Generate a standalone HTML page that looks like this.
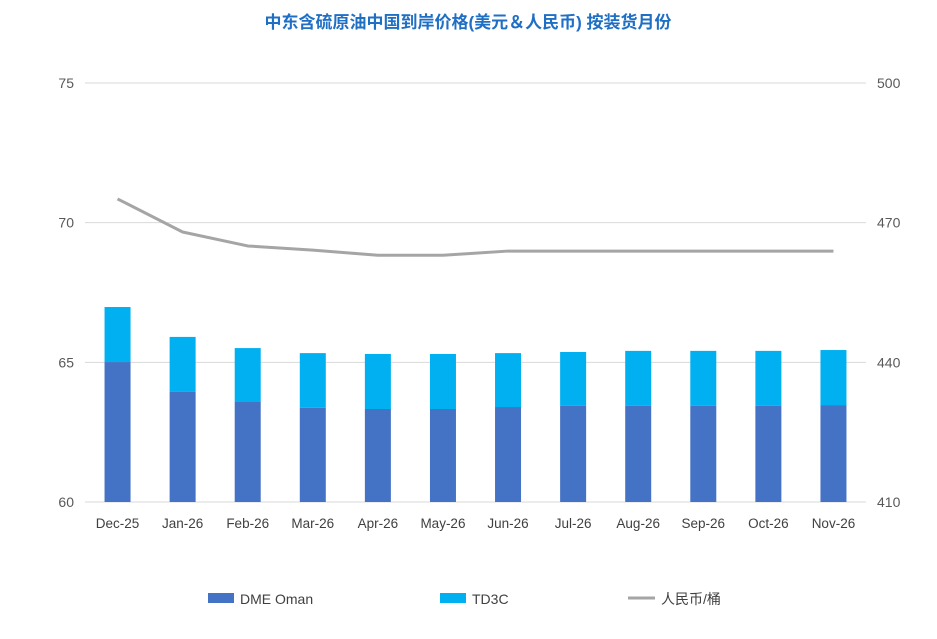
<!DOCTYPE html>
<html><head><meta charset="utf-8"><style>
body{margin:0;background:#fff;}
svg text{font-family:"Liberation Sans","Noto Sans CJK SC",sans-serif;}
</style></head><body>
<svg id="chart" width="937" height="634" xmlns="http://www.w3.org/2000/svg">
<text x="468" y="28" text-anchor="middle" font-size="17" font-weight="bold" fill="#1f6fc5">中东含硫原油中国到岸价格(美元＆人民币) 按装货月份</text>
<g id="grid"></g><g id="bars"></g><g id="line"></g><g id="axes"></g>
<g>
<rect x="208" y="593" width="26" height="10" fill="#4472c4"/>
<text x="240" y="604" font-size="14" fill="#404040">DME Oman</text>
<rect x="440" y="593" width="26" height="10" fill="#00b0f0"/>
<text x="472" y="604" font-size="14" fill="#404040">TD3C</text>
<line x1="628" y1="598" x2="655" y2="598" stroke="#a5a5a5" stroke-width="3"/>
<text x="661" y="604" font-size="14" fill="#404040">人民币/桶</text>
</g>
</svg>
<script>
const categories=["Dec-25","Jan-26","Feb-26","Mar-26","Apr-26","May-26","Jun-26","Jul-26","Aug-26","Sep-26","Oct-26","Nov-26"];
const dmeOman=[65.01,63.94,63.58,63.37,63.33,63.33,63.40,63.44,63.44,63.44,63.44,63.47];
const td3c=[1.97,1.97,1.93,1.96,1.97,1.97,1.93,1.93,1.97,1.97,1.97,1.97];
const rmbPerBarrel=[475.1,468.0,465.0,464.1,463.0,463.0,463.9,463.9,463.9,463.9,463.9,463.9];
const leftTicks=[60,65,70,75];
const rightTicks=[410,440,470,500];
const NS="http://www.w3.org/2000/svg";
const X0=85,X1=866,Y0=502,Y1=83;
const band=(X1-X0)/categories.length;
const xc=i=>X0+band*(i+0.5);
const yL=v=>Y0-(v-60)/(75-60)*(Y0-Y1);
const yR=v=>Y0-(v-410)/(500-410)*(Y0-Y1);
function mk(tag,attrs,parent,txt){const e=document.createElementNS(NS,tag);for(const k in attrs)e.setAttribute(k,attrs[k]);if(txt!==undefined)e.textContent=txt;document.getElementById(parent).appendChild(e);return e;}
leftTicks.forEach((t,i)=>{
 const g=mk('line',{x1:X0,x2:X1,y1:yL(t),y2:yL(t),stroke:'#d9d9d9','stroke-width':1},'grid');
 
 
 const l=mk('text',{x:74,y:yL(t)+5,'text-anchor':'end','font-size':14,fill:'#595959'},'axes',t);
 
 
});
rightTicks.forEach(t=>{
 const l=mk('text',{x:877,y:yR(t)+5,'font-size':14,fill:'#595959'},'axes',t);
 
 
});
const bw=26;
categories.forEach((c,i)=>{
 const b1=mk('rect',{x:xc(i)-bw/2,y:yL(dmeOman[i]),width:bw,height:Y0-yL(dmeOman[i]),fill:'#4472c4'},'bars');
 
 
 const top=dmeOman[i]+td3c[i];
 const b2=mk('rect',{x:xc(i)-bw/2,y:yL(top),width:bw,height:yL(dmeOman[i])-yL(top),fill:'#00b0f0'},'bars');
 
 
 const l=mk('text',{x:xc(i),y:528,'text-anchor':'middle','font-size':13.5,fill:'#404040'},'axes',c);
 
 
});
const p=mk('polyline',{points:rmbPerBarrel.map((v,i)=>xc(i)+','+yR(v)).join(' '),fill:'none',stroke:'#a5a5a5','stroke-width':3,'stroke-linejoin':'round'},'line');


</script>
</body></html>
